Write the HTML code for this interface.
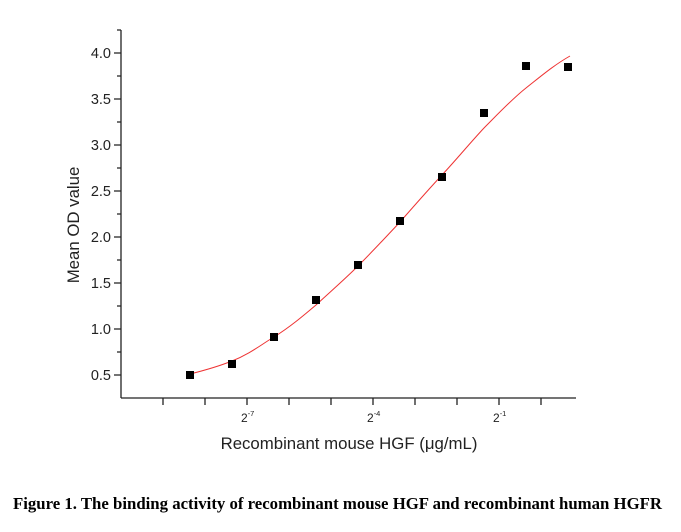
<!DOCTYPE html>
<html><head><style>body{margin:0;background:#fff}</style></head><body>
<svg width="681" height="527" xmlns="http://www.w3.org/2000/svg" font-family="Liberation Sans, sans-serif">
<rect width="681" height="527" fill="#fff"/>
<g stroke="#222" stroke-width="1.3" fill="none">
<line x1="121" y1="30" x2="121" y2="398"/>
<line x1="121" y1="398" x2="576" y2="398"/>
<path d="M121 53h-7M121 99h-7M121 145h-7M121 191h-7M121 237h-7M121 283h-7M121 329h-7M121 375h-7
M121 30h-4M121 76h-4M121 122h-4M121 168h-4M121 214h-4M121 260h-4M121 306h-4M121 352h-4"/>
<path d="M163 398v7M205 398v7M247 398v7M289 398v7M331 398v7M373 398v7M415 398v7M457 398v7M499 398v7M541 398v7"/>
</g>
<g font-size="14.5" fill="#222" text-anchor="end">
<text x="111" y="58">4.0</text><text x="111" y="104">3.5</text><text x="111" y="150">3.0</text>
<text x="111" y="196">2.5</text><text x="111" y="242">2.0</text><text x="111" y="288">1.5</text>
<text x="111" y="334">1.0</text><text x="111" y="380">0.5</text>
</g>
<g font-size="12" fill="#222">
<text x="241" y="422">2<tspan font-size="7.5" dy="-6">-7</tspan></text>
<text x="367" y="422">2<tspan font-size="7.5" dy="-6">-4</tspan></text>
<text x="493" y="422">2<tspan font-size="7.5" dy="-6">-1</tspan></text>
</g>
<text x="349" y="449" font-size="16.8" fill="#222" text-anchor="middle">Recombinant mouse HGF (μg/mL)</text>
<text transform="translate(79,225) rotate(-90)" font-size="16.8" fill="#222" text-anchor="middle">Mean OD value</text>
<path d="M190 374 C210 369 222 365 232 361 C250 354 262 344 274 337 C290 327 303 316 316 305 C330 292 344 280 358 266 C372 252 386 237 400 222 C414 206 428 190 442 175 C456 160 470 143 484 128 C498 114 512 99 526 88 C540 77 554 65 570 56" stroke="#e33" stroke-width="1" fill="none"/>
<g fill="#000">
<rect x="186" y="371" width="8" height="8"/><rect x="228" y="360" width="8" height="8"/>
<rect x="270" y="333" width="8" height="8"/><rect x="312" y="296" width="8" height="8"/>
<rect x="354" y="261" width="8" height="8"/><rect x="396" y="217" width="8" height="8"/>
<rect x="438" y="173" width="8" height="8"/><rect x="480" y="109" width="8" height="8"/>
<rect x="522" y="62" width="8" height="8"/><rect x="564" y="63" width="8" height="8"/>
</g>
<text x="13" y="509" font-family="Liberation Serif, serif" font-weight="bold" font-size="16.7" fill="#000" textLength="649" lengthAdjust="spacingAndGlyphs">Figure 1. The binding activity of recombinant mouse HGF and recombinant human HGFR</text>
</svg>
</body></html>
